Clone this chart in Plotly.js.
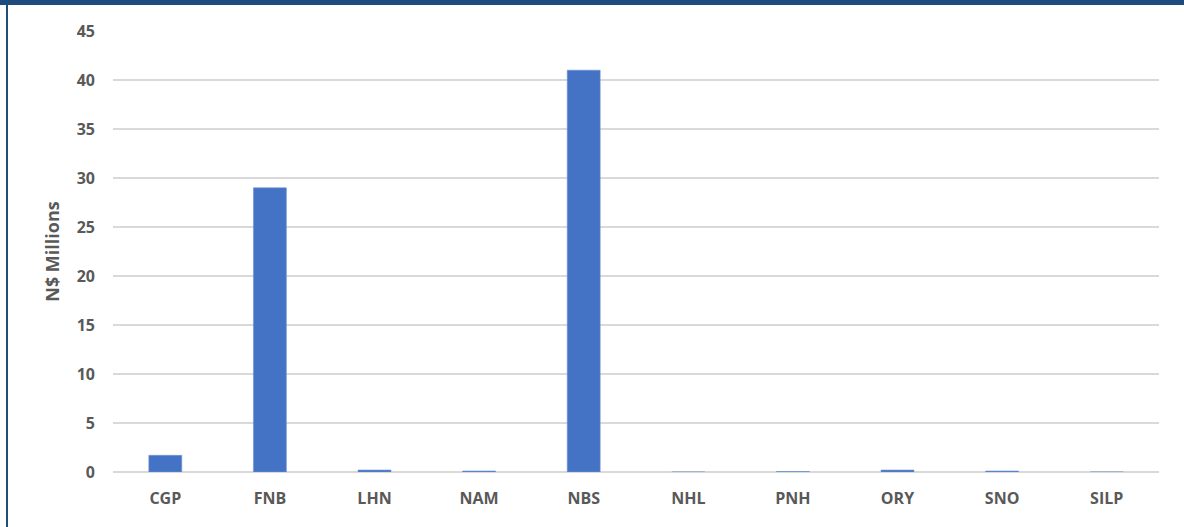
<!DOCTYPE html>
<html>
<head>
<meta charset="utf-8">
<script src="https://cdn.plot.ly/plotly-3.0.1.min.js"></script>
<style>
  html, body { margin: 0; padding: 0; background: #ffffff; }
  #wrap { position: relative; width: 1184px; height: 527px; overflow: hidden; }
  #chart { position: absolute; left: 0; top: 0; width: 1184px; height: 527px; }
  #topbar { position: absolute; left: 0; top: 0; width: 1184px; height: 5px; background: #1f4a7d; z-index: 5; }
  #leftbar { position: absolute; left: 6px; top: 0; width: 2px; height: 527px; background: #1f4e79; z-index: 5; }
</style>
</head>
<body>
<div id="wrap">
  <div id="chart"></div>
  <div id="topbar"></div>
  <div id="leftbar"></div>
</div>
<script>
const categories = ["CGP", "FNB", "LHN", "NAM", "NBS", "NHL", "PNH", "ORY", "SNO", "SILP"];
const values = [1.7, 29.0, 0.2, 0.1, 41.0, 0.0, 0.05, 0.2, 0.1, 0.0];
const yTicks = [0, 5, 10, 15, 20, 25, 30, 35, 40, 45];
const yTitle = "N$ Millions";

const trace = {
  type: "bar",
  x: categories,
  y: values,
  marker: { color: "#4472c4", line: { color: "#6f93d6", width: 0.6 } },
  hoverinfo: "x+y"
};

const fontFam = "'Open Sans', 'Noto Sans', sans-serif";

const layout = {
  width: 1184,
  height: 527,
  margin: { l: 113, r: 25, t: 31, b: 55 },
  paper_bgcolor: "#ffffff",
  plot_bgcolor: "#ffffff",
  showlegend: false,
  bargap: 0.685,
  font: { family: fontFam, color: "#595959" },
  xaxis: {
    type: "category",
    showgrid: false,
    showline: false,
    zeroline: false,
    ticks: "",
    ticklabelstandoff: 15,
    tickfont: { family: fontFam, size: 16, color: "#595959", weight: "bold" }
  },
  yaxis: {
    range: [0, 45],
    tickvals: yTicks,
    ticktext: yTicks.map(String),
    showgrid: true,
    gridcolor: "#d9d9d9",
    gridwidth: 1.5,
    zeroline: true,
    zerolinecolor: "#d9d9d9",
    zerolinewidth: 1.5,
    showline: false,
    ticks: "",
    ticklabelstandoff: 17,
    tickfont: { family: fontFam, size: 16, color: "#595959", weight: "bold" },
    title: { text: yTitle, standoff: 12, font: { family: fontFam, size: 18, color: "#595959", weight: "bold" } }
  }
};

Plotly.newPlot("chart", [trace], layout, { displayModeBar: false, staticPlot: false });
</script>
</body>
</html>
